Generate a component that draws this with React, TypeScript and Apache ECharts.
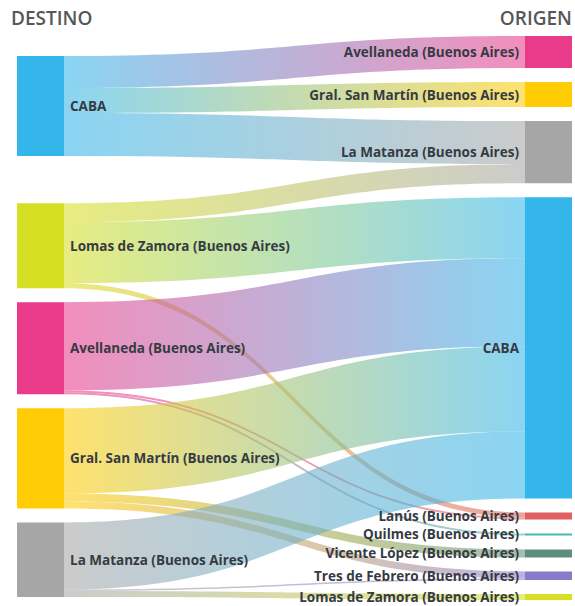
import React, { useEffect, useRef } from "react";
import * as echarts from "echarts";

// Left column (DESTINO) and right column (ORIGEN)
const DESTINOS = [
  "CABA",
  "Lomas de Zamora (Buenos Aires)",
  "Avellaneda (Buenos Aires)",
  "Gral. San Martín (Buenos Aires)",
  "La Matanza (Buenos Aires)",
];
const ORIGENES = [
  "Avellaneda (Buenos Aires)",
  "Gral. San Martín (Buenos Aires)",
  "La Matanza (Buenos Aires)",
  "CABA",
  "Lanús (Buenos Aires)",
  "Quilmes (Buenos Aires)",
  "Vicente López (Buenos Aires)",
  "Tres de Febrero (Buenos Aires)",
  "Lomas de Zamora (Buenos Aires)",
];

// Flows: index into DESTINOS, index into ORIGENES, value
const FLOW_DESTINO = [0, 0, 0, 1, 1, 1, 2, 2, 2, 3, 3, 3, 4, 4, 4];
const FLOW_ORIGEN = [0, 1, 2, 2, 3, 4, 3, 4, 5, 3, 6, 7, 3, 7, 8];
const FLOW_VALUE = [32, 25, 43, 19, 61, 5, 88, 2, 2, 85, 8, 7, 67, 1.5, 6];

const PLACE_COLORS: Record<string, string> = {
  "CABA": "#35b6ea",
  "Lomas de Zamora (Buenos Aires)": "#d6df24",
  "Avellaneda (Buenos Aires)": "#ea3b8b",
  "Gral. San Martín (Buenos Aires)": "#ffcc05",
  "La Matanza (Buenos Aires)": "#a6a6a6",
  "Lanús (Buenos Aires)": "#e0615f",
  "Quilmes (Buenos Aires)": "#45bcad",
  "Vicente López (Buenos Aires)": "#5e8e7b",
  "Tres de Febrero (Buenos Aires)": "#8b79c9",
};

// Layout padding in the left column (invisible spacer nodes before CABA and between CABA and Lomas)
const LEFT_SPACERS = [6, 19];

const FONT = "'Open Sans', 'Noto Sans', sans-serif";

export default function App() {
  const ref = useRef<HTMLDivElement>(null);

  useEffect(() => {
    document.body.style.margin = "0";
    if (!ref.current) return;
    const chart = echarts.init(ref.current, undefined, { renderer: "svg" });

    const spacer = (i: number) => ({
      name: `spacer|${i}`,
      value: LEFT_SPACERS[i],
      depth: 0,
      itemStyle: { opacity: 0 },
      label: { show: false },
      emphasis: { disabled: true },
    });

    const nodes: any[] = [];
    nodes.push(spacer(0));
    DESTINOS.forEach((d, i) => {
      nodes.push({
        name: `${d}|D`,
        depth: 0,
        itemStyle: { color: PLACE_COLORS[d] },
      });
      if (i === 0) nodes.push(spacer(1));
    });
    ORIGENES.forEach((o) => {
      nodes.push({
        name: `${o}|O`,
        depth: 1,
        itemStyle: { color: PLACE_COLORS[o] },
        label: { position: "left" },
      });
    });

    const links = FLOW_VALUE.map((v, i) => ({
      source: `${DESTINOS[FLOW_DESTINO[i]]}|D`,
      target: `${ORIGENES[FLOW_ORIGEN[i]]}|O`,
      value: v,
    }));

    const titleStyle = { fontFamily: FONT, fontSize: 19, fontWeight: 600, color: "#575757" };

    chart.setOption({
      animation: false,
      title: [
        { text: "DESTINO", left: 11, top: 8, padding: 0, textStyle: titleStyle },
        { text: "ORIGEN", right: 3, top: 8, padding: 0, textStyle: titleStyle },
      ],
      series: [
        {
          type: "sankey",
          left: 17,
          right: 3,
          top: 36,
          bottom: 6,
          nodeWidth: 47,
          nodeGap: 14,
          layoutIterations: 0,
          nodeAlign: "left",
          draggable: false,
          emphasis: { focus: "none" },
          data: nodes,
          links,
          itemStyle: { borderWidth: 0 },
          lineStyle: { color: "gradient", opacity: 0.58, curveness: 0.5 },
          label: {
            show: true,
            position: "right",
            distance: 6,
            fontFamily: FONT,
            fontWeight: "bold",
            fontSize: 13.5,
            color: "#353b42",
            formatter: (p: any) => String(p.name).split("|")[0],
          },
        },
      ],
    });

    return () => chart.dispose();
  }, []);

  return <div ref={ref} style={{ width: 575, height: 606 }} />;
}
